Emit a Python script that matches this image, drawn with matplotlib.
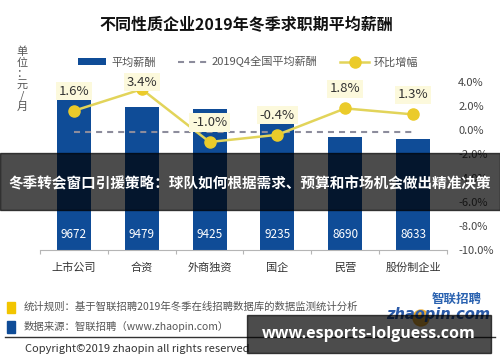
import matplotlib
matplotlib.use('Agg')
import matplotlib.pyplot as plt
import numpy as np
from matplotlib.patches import Rectangle, Ellipse
from matplotlib.lines import Line2D

plt.rcParams['font.family'] = ['Noto Sans CJK SC', 'DejaVu Sans']

# ---- data ----
categories = ['上市公司', '合资', '外商独资', '国企', '民营', '股份制企业']
salary = [9672, 9479, 9425, 9235, 8690, 8633]
growth = [1.6, 3.4, -1.0, -0.4, 1.8, 1.3]
national_avg = 8829
pct_ticks = [-10, -8, -6, -4, -2, 0, 2, 4]
legend_labels = ['平均薪酬', '2019Q4全国平均薪酬', '环比增幅']
title = '不同性质企业2019年冬季求职期平均薪酬'
unit_text = '单位：元/月'
rule_text = '统计规则：基于智联招聘2019年冬季在线招聘数据库的数据监测统计分析'
source_text = '数据来源：智联招聘（www.zhaopin.com）'
copyright_text = 'Copyright©2019 zhaopin all rights reserved'
overlay_title = '冬季转会窗口引援策略：球队如何根据需求、预算和市场机会做出精准决策'
overlay_url = 'www.esports-lolguess.com'

# ---- style ----
BLUE = '#0f4c97'
YELLOW_LINE = '#e2d45a'
YELLOW_MARK = '#ebcb2a'
GRAY = '#555555'
W, H = 500, 362


def fx(px):
    return px / W


def fy(py):
    return 1 - py / H


fig = plt.figure(figsize=(W / 100, H / 100), dpi=100)
fig.patch.set_facecolor('white')

ax = fig.add_axes([fx(40), fy(250), fx(447) - fx(40), fy(70) - fy(250)])
x = np.arange(len(categories))
bars = ax.bar(x, salary, width=0.5, color=BLUE, zorder=2, label=legend_labels[0])
ax.set_ylim(5709, 10455)
ax.set_xlim(-0.5, len(categories) - 0.5)
avg_line, = ax.plot([x[0], x[-1]], [national_avg, national_avg], color='#8c8c9c',
                    lw=1.5, dashes=(2.9, 2.4), zorder=3, label=legend_labels[1])
for s in ['left', 'top', 'right']:
    ax.spines[s].set_visible(False)
ax.spines['bottom'].set_color('#b5b5b5')
ax.set_yticks([])
ax.set_xticks(x, categories)
ax.tick_params(axis='x', which='major', length=0, pad=9, labelsize=8, labelcolor='#333333')
ax.set_xticks(np.arange(-0.5, len(categories), 1), minor=True)
ax.tick_params(axis='x', which='minor', length=3, color='#b5b5b5', width=0.8)

ybot = ax.get_ylim()[0]
for xi, v in zip(x, salary):
    ax.annotate(f'{v}', (xi, ybot), xytext=(0, 11.5), textcoords='offset points',
                ha='center', va='center', color='white', fontsize=8.5, zorder=4)

ax2 = ax.twinx()
ax2.set_ylim(-10, 5)
ax2.set_yticks(pct_ticks, [f'{t:.1f}%' for t in pct_ticks])
ax2.tick_params(axis='y', length=0, pad=8, labelsize=8, labelcolor='#444444')
for s in ax2.spines.values():
    s.set_visible(False)
line, = ax2.plot(x, growth, color=YELLOW_LINE, lw=1.8, marker='o', ms=8,
                 mfc=YELLOW_MARK, mec=YELLOW_MARK, zorder=5, label=legend_labels[2])
label_offsets = [14, 5, 14, 14, 14, 14]
for xi, g, off in zip(x, growth, label_offsets):
    ax2.annotate(f'{g:.1f}%', (xi, g), xytext=(0, off), textcoords='offset points',
                 ha='center', va='center', fontsize=9.5, color='#333333', zorder=6,
                 bbox=dict(boxstyle='square,pad=0.2', fc='#fcf9dc', ec='none'))

fig.legend(handles=[bars, avg_line, line], labels=legend_labels, loc='center',
           bbox_to_anchor=(fx(248), fy(62)), ncol=3, frameon=False, fontsize=8,
           labelcolor=GRAY, handlelength=2.6, handleheight=0.55, columnspacing=2.0,
           handletextpad=0.45)

fig.text(fx(246), fy(25), title, ha='center', va='center', fontsize=11.5,
         fontweight='bold', color='#111111')
fig.text(fx(22), fy(79), '\n'.join(unit_text), ha='center', va='center',
         fontsize=8, linespacing=1.12, color=GRAY)

# footer
fig.add_artist(Rectangle((fx(7), fy(313)), 8 / W, 11 / H, transform=fig.transFigure,
                         color='#f2c500', zorder=2))
fig.add_artist(Rectangle((fx(7), fy(333)), 8 / W, 12 / H, transform=fig.transFigure,
                         color=BLUE, zorder=2))
fig.text(fx(24), fy(307), rule_text, va='center', fontsize=7.5, color=GRAY)
fig.text(fx(24), fy(326), source_text, va='center', fontsize=7.5, color=GRAY)
fig.add_artist(Line2D([fx(5), fx(495)], [fy(337), fy(337)], transform=fig.transFigure,
                      color='#333333', lw=1))
fig.text(fx(25), fy(349), copyright_text, va='center', fontsize=8, color='#333333')

# logo
fig.add_artist(Ellipse((fx(421), fy(318)), 16 / W, 16 / H, transform=fig.transFigure,
                       color='#e9a41e', alpha=0.85, zorder=2))
fig.text(fx(457), fy(299), '智联招聘', ha='center', va='center', fontsize=9,
         fontweight='bold', color='#2a62b0')
fig.text(fx(438), fy(314), 'zhaopin.com', ha='center', va='center', fontsize=10.5,
         fontweight='bold', style='italic', color='#2a5aa8', family='DejaVu Sans')

# overlays
fig.add_artist(Rectangle((0, fy(210)), 1, (210 - 153) / H, transform=fig.transFigure,
                         color='black', alpha=0.7, zorder=10))
fig.text(fx(250), fy(183), overlay_title, ha='center', va='center', fontsize=10.5,
         fontweight='bold', color='white', zorder=11)
fig.add_artist(Rectangle((fx(247), fy(353)), (491 - 247) / W, (353 - 315) / H,
                         transform=fig.transFigure, color='black', alpha=0.7, zorder=10))
fig.text(fx(369), fy(334), overlay_url, ha='center', va='center', fontsize=11.5,
         fontweight='bold', color='white', family='Open Sans', zorder=11)

fig.savefig('out.png', dpi=100)
